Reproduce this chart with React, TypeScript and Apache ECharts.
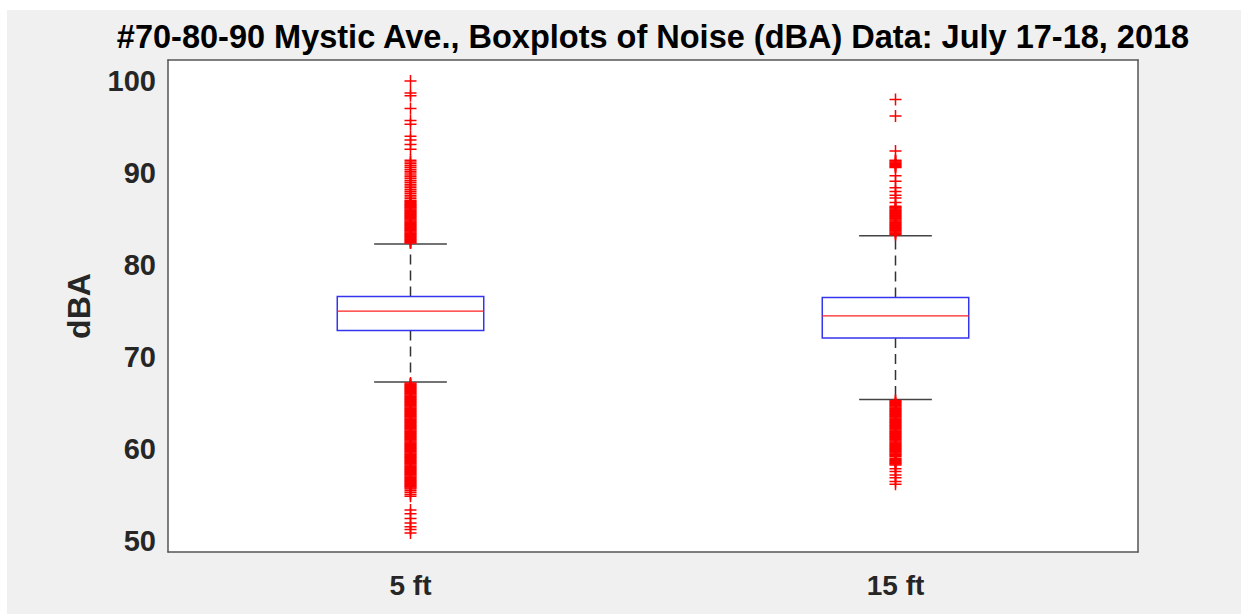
import React, { useEffect, useRef } from "react";
import * as echarts from "echarts";

const titleText = "#70-80-90 Mystic Ave., Boxplots of Noise (dBA) Data: July 17-18, 2018";
const categories = ["5 ft", "15 ft"];
const yTicks = [50, 60, 70, 80, 90, 100];

// box statistics
const lowerWhisker = [67.3, 65.4];
const q1 = [72.9, 72.1];
const median = [75.0, 74.5];
const q3 = [76.6, 76.5];
const upperWhisker = [82.3, 83.2];

// outliers (dBA)
const outliers5ftHigh = [
  100.0, 98.7, 98.4, 97.0, 95.7, 95.3, 94.0, 93.6, 93.1, 92.6,
  91.4, 91.2, 91.0, 90.8, 90.6, 90.4, 90.2, 90.0, 89.8, 89.6, 89.4, 89.2, 89.0, 88.8, 88.6, 88.4, 88.2, 88.0, 87.8, 87.6, 87.4, 87.2,
  87.0, 86.9, 86.8, 86.7, 86.6, 86.5, 86.4, 86.3, 86.2, 86.1, 86.0, 85.9, 85.8, 85.7, 85.6, 85.5, 85.4, 85.3, 85.2, 85.1,
  85.0, 84.9, 84.8, 84.7, 84.6, 84.5, 84.4, 84.3, 84.2, 84.1, 84.0, 83.9, 83.8, 83.7, 83.6, 83.5, 83.4, 83.3, 83.2, 83.1,
  83.0, 82.9, 82.8, 82.7, 82.6, 82.5, 82.4,
];
const outliers5ftLow = [
  67.2, 67.1, 67.0, 66.9, 66.8, 66.7, 66.6, 66.5, 66.4, 66.3, 66.2, 66.1, 66.0,
  65.9, 65.8, 65.7, 65.6, 65.5, 65.4, 65.3, 65.2, 65.1, 65.0,
  64.9, 64.8, 64.7, 64.6, 64.5, 64.4, 64.3, 64.2, 64.1, 64.0,
  63.9, 63.8, 63.7, 63.6, 63.5, 63.4, 63.3, 63.2, 63.1, 63.0,
  62.9, 62.8, 62.7, 62.6, 62.5, 62.4, 62.3, 62.2, 62.1, 62.0,
  61.9, 61.8, 61.7, 61.6, 61.5, 61.4, 61.3, 61.2, 61.1, 61.0,
  60.9, 60.8, 60.7, 60.6, 60.5, 60.4, 60.3, 60.2, 60.1, 60.0,
  59.9, 59.8, 59.7, 59.6, 59.5, 59.4, 59.3, 59.2, 59.1, 59.0,
  58.9, 58.8, 58.7, 58.6, 58.5, 58.4, 58.3, 58.2, 58.1, 58.0,
  57.9, 57.8, 57.7, 57.6, 57.5, 57.4, 57.3, 57.2, 57.1, 57.0,
  56.9, 56.8, 56.7, 56.6, 56.5, 56.4, 56.3, 56.2, 56.1, 56.0,
  55.9, 55.8, 55.7, 55.5, 55.3, 55.1, 54.9,
  53.4, 53.0, 52.5, 52.0, 51.6, 51.3, 50.9,
];
const outliers15ftHigh = [
  98.0, 96.2, 92.4,
  91.4, 91.3, 91.2, 91.1, 91.0, 90.9, 90.8, 90.7, 90.6,
  89.7, 89.1, 88.4, 88.0, 87.6, 87.3, 86.8,
  86.4, 86.3, 86.2, 86.1, 86.0, 85.9, 85.8, 85.7, 85.6, 85.5, 85.4, 85.3, 85.2, 85.1,
  85.0, 84.9, 84.8, 84.7, 84.6, 84.5, 84.4, 84.3, 84.2, 84.1, 84.0, 83.9, 83.8, 83.7, 83.6, 83.5, 83.4, 83.3,
];
const outliers15ftLow = [
  65.3, 65.2, 65.1, 65.0,
  64.9, 64.8, 64.7, 64.6, 64.5, 64.4, 64.3, 64.2, 64.1, 64.0,
  63.9, 63.8, 63.7, 63.6, 63.5, 63.4, 63.3, 63.2, 63.1, 63.0,
  62.9, 62.8, 62.7, 62.6, 62.5, 62.4, 62.3, 62.2, 62.1, 62.0,
  61.9, 61.8, 61.7, 61.6, 61.5, 61.4, 61.3, 61.2, 61.1, 61.0,
  60.9, 60.8, 60.7, 60.6, 60.5, 60.4, 60.3, 60.2, 60.1, 60.0,
  59.9, 59.8, 59.7, 59.6, 59.5, 59.4, 59.3, 59.2,
  59.0, 58.9, 58.8, 58.7, 58.6, 58.5, 58.4, 58.3,
  57.9, 57.6, 57.2, 56.9, 56.5, 56.2,
];

const FONT = '"Liberation Sans", Arial, Helvetica, sans-serif';
const AXIS_COLOR = "#555555";
const TEXT_COLOR = "#262626";
const PLUS = "path://M0,5.25H12V6.75H0Z M5.25,0H6.75V12H5.25Z";

export default function App() {
  const ref = useRef<HTMLDivElement>(null);
  useEffect(() => {
    if (!ref.current) return;
    const chart = echarts.init(ref.current, null, { renderer: "svg" });

    const boxData = categories.map((_, i) => [i, lowerWhisker[i], q1[i], median[i], q3[i], upperWhisker[i]]);
    const outlierData = [
      ...outliers5ftHigh.map((v) => [0, v]),
      ...outliers5ftLow.map((v) => [0, v]),
      ...outliers15ftHigh.map((v) => [1, v]),
      ...outliers15ftLow.map((v) => [1, v]),
    ];

    const tickStyle = { inside: true, length: 7, lineStyle: { color: AXIS_COLOR, width: 1 } };
    const lineStyle = { show: true, lineStyle: { color: AXIS_COLOR, width: 1.5 } };

    chart.setOption({
      animation: false,
      backgroundColor: "#f0f0f0",
      graphic: [
        { type: "rect", shape: { x: 0, y: 0, width: 1241, height: 10 }, style: { fill: "#ffffff" }, silent: true },
        { type: "rect", shape: { x: 0, y: 0, width: 7, height: 614 }, style: { fill: "#ffffff" }, silent: true },
        {
          type: "text",
          x: 653,
          y: 37,
          style: {
            text: titleText,
            textAlign: "center",
            textVerticalAlign: "middle",
            fontFamily: FONT,
            fontWeight: "bold",
            fontSize: 32.5,
            fill: "#000000",
          },
        },
      ],
      grid: {
        left: 168,
        right: 103,
        top: 60,
        bottom: 62,
        show: true,
        backgroundColor: "#ffffff",
        borderWidth: 0,
      },
      xAxis: [
        {
          type: "category",
          data: categories,
          position: "bottom",
          boundaryGap: true,
          axisLine: lineStyle,
          axisTick: { ...tickStyle, alignWithLabel: true },
          axisLabel: { fontFamily: FONT, fontWeight: "bold", fontSize: 28, color: TEXT_COLOR, margin: 19 },
          splitLine: { show: false },
        },
        {
          type: "category",
          data: categories,
          position: "top",
          boundaryGap: true,
          axisLine: lineStyle,
          axisTick: { ...tickStyle, alignWithLabel: true },
          axisLabel: { show: false },
          splitLine: { show: false },
        },
      ],
      yAxis: [
        {
          type: "value",
          min: 48.85,
          max: 102.28,
          position: "left",
          name: "dBA",
          nameLocation: "middle",
          nameRotate: 90,
          nameGap: 73,
          nameTextStyle: { fontFamily: FONT, fontWeight: "bold", fontSize: 32, color: TEXT_COLOR },
          axisLine: lineStyle,
          axisTick: { ...tickStyle, customValues: yTicks },
          axisLabel: { customValues: yTicks, fontFamily: FONT, fontWeight: "bold", fontSize: 29, color: TEXT_COLOR, margin: 12 },
          splitLine: { show: false },
        },
        {
          type: "value",
          min: 48.85,
          max: 102.28,
          position: "right",
          axisLine: lineStyle,
          axisTick: { ...tickStyle, customValues: yTicks },
          axisLabel: { show: false },
          splitLine: { show: false },
        },
      ],
      series: [
        {
          type: "custom",
          xAxisIndex: 0,
          yAxisIndex: 0,
          z: 2,
          data: boxData,
          encode: { x: 0, y: [1, 2, 3, 4, 5] },
          renderItem: (params: any, api: any) => {
            const x = api.value(0);
            const pLow = api.coord([x, api.value(1)]);
            const pQ1 = api.coord([x, api.value(2)]);
            const pMed = api.coord([x, api.value(3)]);
            const pQ3 = api.coord([x, api.value(4)]);
            const pHigh = api.coord([x, api.value(5)]);
            const band = api.size([1, 0])[0];
            const cx = pMed[0];
            const hb = band * 0.151;
            const hc = band * 0.075;
            const dash = { stroke: "#333333", lineWidth: 1.5, lineDash: [10, 6] };
            const cap = { stroke: "#444444", lineWidth: 1.5 };
            return {
              type: "group",
              children: [
                { type: "line", shape: { x1: cx, y1: pQ3[1], x2: cx, y2: pHigh[1] }, style: dash },
                { type: "line", shape: { x1: cx, y1: pQ1[1], x2: cx, y2: pLow[1] }, style: dash },
                { type: "line", shape: { x1: cx - hc, y1: pHigh[1], x2: cx + hc, y2: pHigh[1] }, style: cap },
                { type: "line", shape: { x1: cx - hc, y1: pLow[1], x2: cx + hc, y2: pLow[1] }, style: cap },
                {
                  type: "rect",
                  shape: { x: cx - hb, y: pQ3[1], width: 2 * hb, height: pQ1[1] - pQ3[1] },
                  style: { fill: "none", stroke: "#3535f0", lineWidth: 1.5 },
                },
                { type: "line", shape: { x1: cx - hb, y1: pMed[1], x2: cx + hb, y2: pMed[1] }, style: { stroke: "#ff2020", lineWidth: 1.3 } },
              ],
            };
          },
        },
        {
          type: "scatter",
          xAxisIndex: 0,
          yAxisIndex: 0,
          z: 3,
          data: outlierData,
          symbol: PLUS,
          symbolSize: 12,
          itemStyle: { color: "#ff0000", opacity: 1 },
        },
      ],
    });
    return () => chart.dispose();
  }, []);
  return <div ref={ref} style={{ position: "fixed", left: 0, top: 0, width: 1241, height: 614 }} />;
}
